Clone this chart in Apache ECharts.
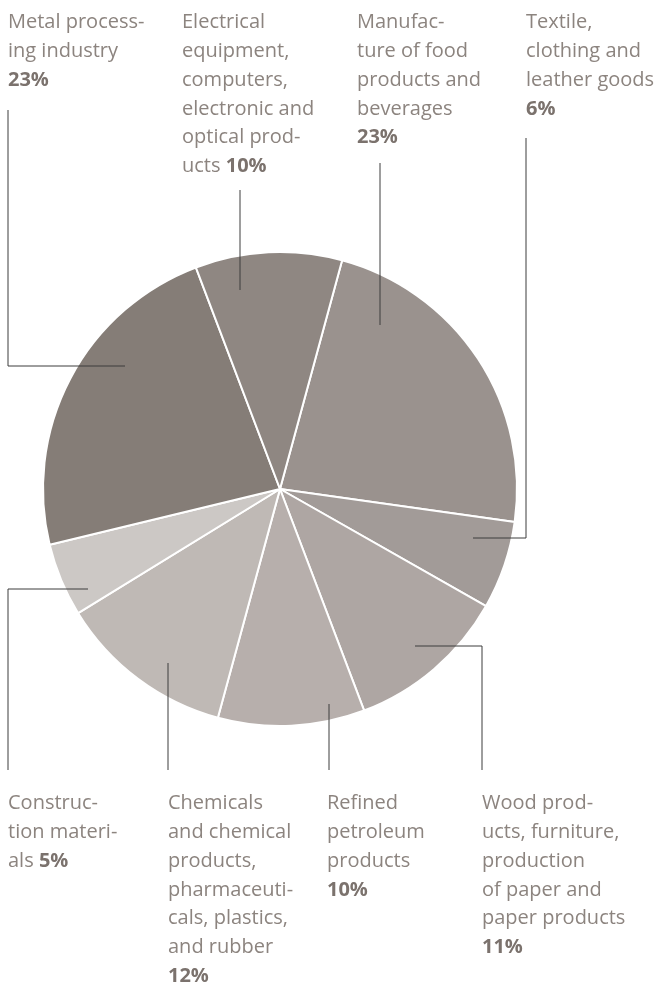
<!DOCTYPE html>
<html>
<head>
<meta charset="utf-8">
<script src="https://cdn.jsdelivr.net/npm/echarts@6/dist/echarts.min.js"></script>
<style>
  html, body { margin: 0; padding: 0; background: #fff; }
  #pieChart { width: 663px; height: 988px; }
</style>
</head>
<body>
<div id="pieChart"></div>
<script>
// categories in clockwise order, starting at the top
var sectors = [
  'Manufac-\nture of food\nproducts and\nbeverages',
  'Textile,\nclothing and\nleather goods',
  'Wood prod-\nucts, furniture,\nproduction\nof paper and\npaper products',
  'Refined\npetroleum\nproducts',
  'Chemicals\nand chemical\nproducts,\npharmaceuti-\ncals, plastics,\nand rubber',
  'Construc-\ntion materi-\nals',
  'Metal process-\ning industry',
  'Electrical\nequipment,\ncomputers,\nelectronic and\noptical prod-\nucts'
];
var shares = [23, 6, 11, 10, 12, 5, 23, 10];
// percent on its own line or after the last word
var joiners = ['\n', '\n', '\n', '\n', '\n', ' ', '\n', ' '];

var colors = ['#9a928e', '#a29b98', '#aea6a3', '#b7afac', '#bfb9b5', '#ccc8c5', '#857d77', '#8f8782'];

// label box (left, top) and leader line points: anchor in slice, elbow, end
var spots = [
  { x: 357, y: 8, line: [[380, 325], [380, 250], [380, 163]] },
  { x: 526, y: 8, line: [[473, 538], [526, 538], [526, 138]] },
  { x: 482, y: 789, line: [[415, 646], [482, 646], [482, 770]] },
  { x: 327, y: 789, line: [[329, 704], [329, 740], [329, 770]] },
  { x: 168, y: 789, line: [[168, 663], [168, 720], [168, 770]] },
  { x: 8, y: 789, line: [[88, 589], [8, 589], [8, 770]] },
  { x: 8, y: 8, line: [[125, 366], [8, 366], [8, 110]] },
  { x: 182, y: 8, line: [[240, 290], [240, 240], [240, 190]] }
];

var pieChart = echarts.init(document.getElementById('pieChart'));

var pieData = sectors.map(function (name, i) {
  return { name: name, value: shares[i], itemStyle: { color: colors[i] } };
});

var pieBase = {
  type: 'pie',
  center: [280, 489],
  radius: 237,
  startAngle: 74.8,
  clockwise: true,
  emphasis: { disabled: true },
  silent: true
};

var option = {
  animation: false,
  series: [
    // the slices
    Object.assign({}, pieBase, {
      z: 2,
      data: pieData,
      itemStyle: { borderColor: '#ffffff', borderWidth: 2 },
      label: { show: false },
      labelLine: { show: false }
    }),
    // transparent copy on top, carrying labels and leader lines
    Object.assign({}, pieBase, {
      z: 3,
      data: pieData.map(function (d) {
        return { name: d.name, value: d.value, itemStyle: { color: 'rgba(0,0,0,0)' } };
      }),
      itemStyle: { borderWidth: 0 },
      label: {
        show: true,
        position: 'outside',
        overflow: 'none',
        fontFamily: 'Open Sans',
        fontSize: 20,
        lineHeight: 28.8,
        color: '#8c847f',
        align: 'left',
        formatter: function (p) {
          return p.name + joiners[p.dataIndex] + '{p|' + p.value + '%}';
        },
        rich: {
          p: {
            fontFamily: 'Open Sans',
            fontSize: 20,
            lineHeight: 28.8,
            fontWeight: 'bold',
            color: '#7b726d'
          }
        }
      },
      labelLine: {
        show: true,
        smooth: false,
        lineStyle: { color: '#3c3c3c', width: 1 }
      },
      labelLayout: function (params) {
        var s = spots[params.dataIndex];
        return {
          x: s.x,
          y: s.y,
          align: 'left',
          verticalAlign: 'top',
          labelLinePoints: s.line
        };
      }
    })
  ]
};

option && pieChart.setOption(option);
</script>
</body>
</html>
